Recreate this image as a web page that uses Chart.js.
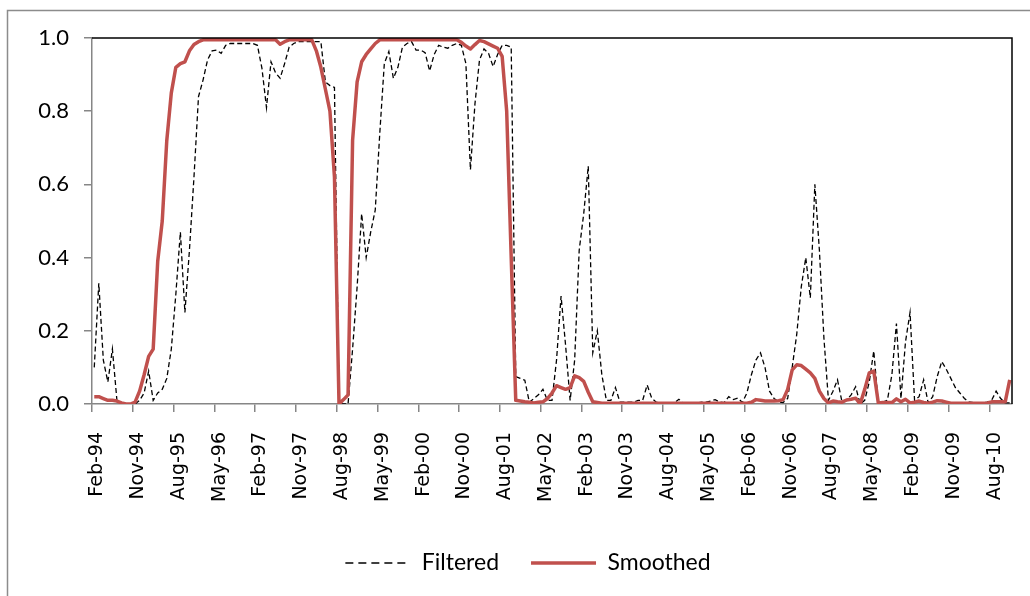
<!DOCTYPE html>
<html>
<head>
<meta charset="utf-8">
<script src="https://cdn.jsdelivr.net/npm/chart.js@4/dist/chart.umd.min.js"></script>
<style>
  html, body { margin: 0; padding: 0; background: #fff; }
  #wrap { width: 1030px; height: 596px; }
</style>
</head>
<body>
<div id="wrap"><canvas id="canvas" width="1030" height="596"></canvas></div>
<script>
// monthly categories Feb-94 .. Dec-10
const monthNames = ['Jan','Feb','Mar','Apr','May','Jun','Jul','Aug','Sep','Oct','Nov','Dec'];
const categories = [];
for (let k = 0; k < 203; k++) {
    const m = (1 + k) % 12;
    const y = (94 + Math.floor((1 + k) / 12)) % 100;
    categories.push(monthNames[m] + '-' + String(y).padStart(2, '0'));
}

const tickLabels = ['Feb-94','Nov-94','Aug-95','May-96','Feb-97','Nov-97','Aug-98','May-99',
    'Feb-00','Nov-00','Aug-01','May-02','Feb-03','Nov-03','Aug-04','May-05','Feb-06',
    'Nov-06','Aug-07','May-08','Feb-09','Nov-09','Aug-10'];

const yTicks = [0, 0.2, 0.4, 0.6, 0.8, 1.0];

const filtered = [
    0.10,0.33,0.12,0.06,0.15,0.01,0,0,0,0,
    0.01,0.03,0.09,0.01,0.03,0.04,0.07,0.15,0.30,0.47,
    0.25,0.42,0.62,0.84,0.885,0.94,0.965,0.967,0.958,0.98,
    0.985,0.985,0.985,0.985,0.985,0.985,0.98,0.917,0.81,0.935,
    0.905,0.89,0.93,0.975,0.985,0.99,0.99,0.99,0.99,0.99,
    0.99,0.88,0.87,0.865,0,0,0,0.15,0.32,0.52,
    0.40,0.47,0.53,0.74,0.93,0.963,0.89,0.92,0.975,0.985,
    0.99,0.967,0.967,0.96,0.91,0.955,0.98,0.975,0.972,0.98,
    0.985,0.98,0.93,0.64,0.82,0.94,0.97,0.958,0.922,0.955,
    0.98,0.98,0.975,0.075,0.07,0.065,0.005,0.015,0.025,0.04,
    0.01,0.01,0.12,0.295,0.16,0.01,0.12,0.42,0.52,0.65,
    0.14,0.2,0.08,0.01,0.01,0.045,0.005,0.005,0.005,0.005,
    0.01,0.01,0.052,0.016,0.005,0.003,0.003,0.003,0.003,0.013,
    0.002,0.003,0.003,0.003,0.005,0.005,0.008,0.012,0.005,0.004,
    0.02,0.012,0.016,0.004,0.03,0.08,0.12,0.14,0.1,0.035,
    0.015,0.006,0.004,0.015,0.1,0.19,0.32,0.4,0.29,0.6,
    0.42,0.18,0.01,0.035,0.066,0.005,0.01,0.025,0.047,0,
    0.01,0.06,0.145,0,0.005,0.01,0.08,0.22,0.015,0.17,
    0.25,0.01,0.02,0.066,0.003,0.02,0.075,0.116,0.095,0.07,
    0.045,0.03,0.015,0.006,0.004,0.003,0.003,0.005,0.01,0.035,
    0.015,0.003,0.003
];

const smoothed = [
    0.02,0.02,0.015,0.01,0.01,0.008,0.003,0,0,0.005,
    0.035,0.08,0.13,0.15,0.39,0.5,0.72,0.85,0.92,0.93,
    0.935,0.965,0.982,0.99,0.995,0.995,0.995,0.995,0.995,0.995,
    0.995,0.995,0.995,0.995,0.995,0.995,0.995,0.995,0.995,0.995,
    0.995,0.983,0.99,0.995,0.995,0.995,0.995,0.995,0.995,0.965,
    0.92,0.86,0.8,0.62,0,0.012,0.025,0.72,0.88,0.935,
    0.955,0.97,0.985,0.995,0.995,0.995,0.995,0.995,0.995,0.995,
    0.995,0.995,0.995,0.995,0.995,0.995,0.995,0.995,0.995,0.995,
    0.995,0.988,0.978,0.97,0.982,0.993,0.99,0.984,0.978,0.972,
    0.95,0.8,0.4,0.01,0.008,0.006,0.005,0.003,0.005,0.006,
    0.015,0.03,0.05,0.045,0.04,0.045,0.077,0.072,0.062,0.032,
    0.006,0.004,0.002,0.002,0.002,0.002,0.002,0.002,0.002,0.002,
    0.002,0.002,0.002,0.002,0.002,0.002,0.002,0.002,0.002,0.002,
    0.002,0.002,0.002,0.002,0.002,0.002,0.002,0.002,0.002,0.002,
    0.002,0.002,0.002,0.002,0.002,0.005,0.012,0.01,0.008,0.008,
    0.008,0.009,0.012,0.04,0.093,0.107,0.105,0.095,0.085,0.07,
    0.035,0.015,0.003,0.008,0.006,0.005,0.011,0.013,0.016,0,
    0.04,0.085,0.09,0.003,0.004,0.004,0.004,0.014,0.006,0.013,
    0.003,0.005,0.008,0.004,0.002,0.005,0.009,0.008,0.005,0.002,
    0.002,0.002,0.002,0.002,0.002,0.002,0.002,0.002,0.006,0.006,
    0.006,0.006,0.066
];

const AXIS_GREY = '#868686';

const frame = {
    id: 'frame',
    beforeDraw(chart) {
        const c = chart.ctx;
        c.save();
        c.fillStyle = '#fff';
        c.fillRect(0, 0, chart.width, chart.height);
        c.strokeStyle = '#8c8c8c';
        c.lineWidth = 1.5;
        c.strokeRect(7.5, 10.5, chart.width + 20, chart.height + 20);
        c.restore();
    },
    afterDatasetsDraw(chart) {
        const a = chart.chartArea, c = chart.ctx;
        c.save();
        c.strokeStyle = '#000';
        c.lineWidth = 1.5;
        c.beginPath();
        c.moveTo(a.left, a.top);
        c.lineTo(a.right, a.top);
        c.lineTo(a.right, a.bottom);
        c.stroke();
        c.restore();
    }
};

const ctx = document.getElementById('canvas').getContext('2d');
const chart = new Chart(ctx, {
    type: 'line',
    data: {
        labels: categories,
        datasets: [
            {
                label: 'Filtered',
                data: filtered,
                borderColor: '#000',
                borderWidth: 1.3,
                borderDash: [5, 3],
                pointRadius: 0,
                tension: 0,
                order: 1
            },
            {
                label: 'Smoothed',
                data: smoothed,
                borderColor: '#C0504D',
                borderWidth: 3.5,
                borderJoinStyle: 'round',
                pointRadius: 0,
                tension: 0,
                order: 0
            }
        ]
    },
    options: {
        responsive: false,
        animation: false,
        layout: { padding: { left: 44, right: 18, top: 38, bottom: 11.5 } },
        plugins: {
            tooltip: { enabled: false },
            legend: {
                position: 'bottom',
                labels: {
                    font: { family: 'Lato', size: 23 },
                    color: '#000',
                    usePointStyle: true,
                    pointStyle: 'line',
                    pointStyleWidth: 65,
                    padding: 32,
                    sort: (a, b) => a.datasetIndex - b.datasetIndex,
                    generateLabels: chart => Chart.defaults.plugins.legend.labels.generateLabels(chart)
                        .map(l => Object.assign(l, { lineDash: l.datasetIndex === 0 ? [8, 5] : [] }))
                }
            }
        },
        scales: {
            x: {
                type: 'category',
                offset: true,
                afterFit: s => { s.height = 115.5; s.paddingLeft = 0; s.paddingRight = 0; },
                grid: {
                    offset: true,
                    drawOnChartArea: false,
                    tickLength: 8,
                    lineWidth: 1.5,
                    color: c => (c.tick && tickLabels.includes(categories[c.index])) ? AXIS_GREY : 'rgba(0,0,0,0)'
                },
                border: { color: AXIS_GREY, width: 1.5 },
                ticks: {
                    autoSkip: false,
                    maxRotation: 90,
                    minRotation: 90,
                    padding: 20,
                    labelOffset: 3,
                    color: '#000',
                    font: { family: 'DejaVu Sans', size: 19 },
                    callback: (v, i) => tickLabels.includes(categories[i]) ? categories[i] : ''
                }
            },
            y: {
                min: 0,
                max: 1,
                afterFit: s => {
                    s.width = 48;
                    // labels sit left of the narrow axis box, so do not clip them to it
                    s._computeLabelArea = () => undefined;
                },
                afterBuildTicks: s => { s.ticks = yTicks.map(v => ({ value: v })); },
                grid: { drawOnChartArea: false, tickLength: 8, lineWidth: 1.5, color: AXIS_GREY },
                border: { color: AXIS_GREY, width: 1.5 },
                ticks: {
                    padding: 15,
                    color: '#000',
                    font: { family: 'Lato', size: 22 },
                    callback: v => v.toFixed(1)
                }
            }
        }
    },
    plugins: [frame]
});
</script>
</body>
</html>
